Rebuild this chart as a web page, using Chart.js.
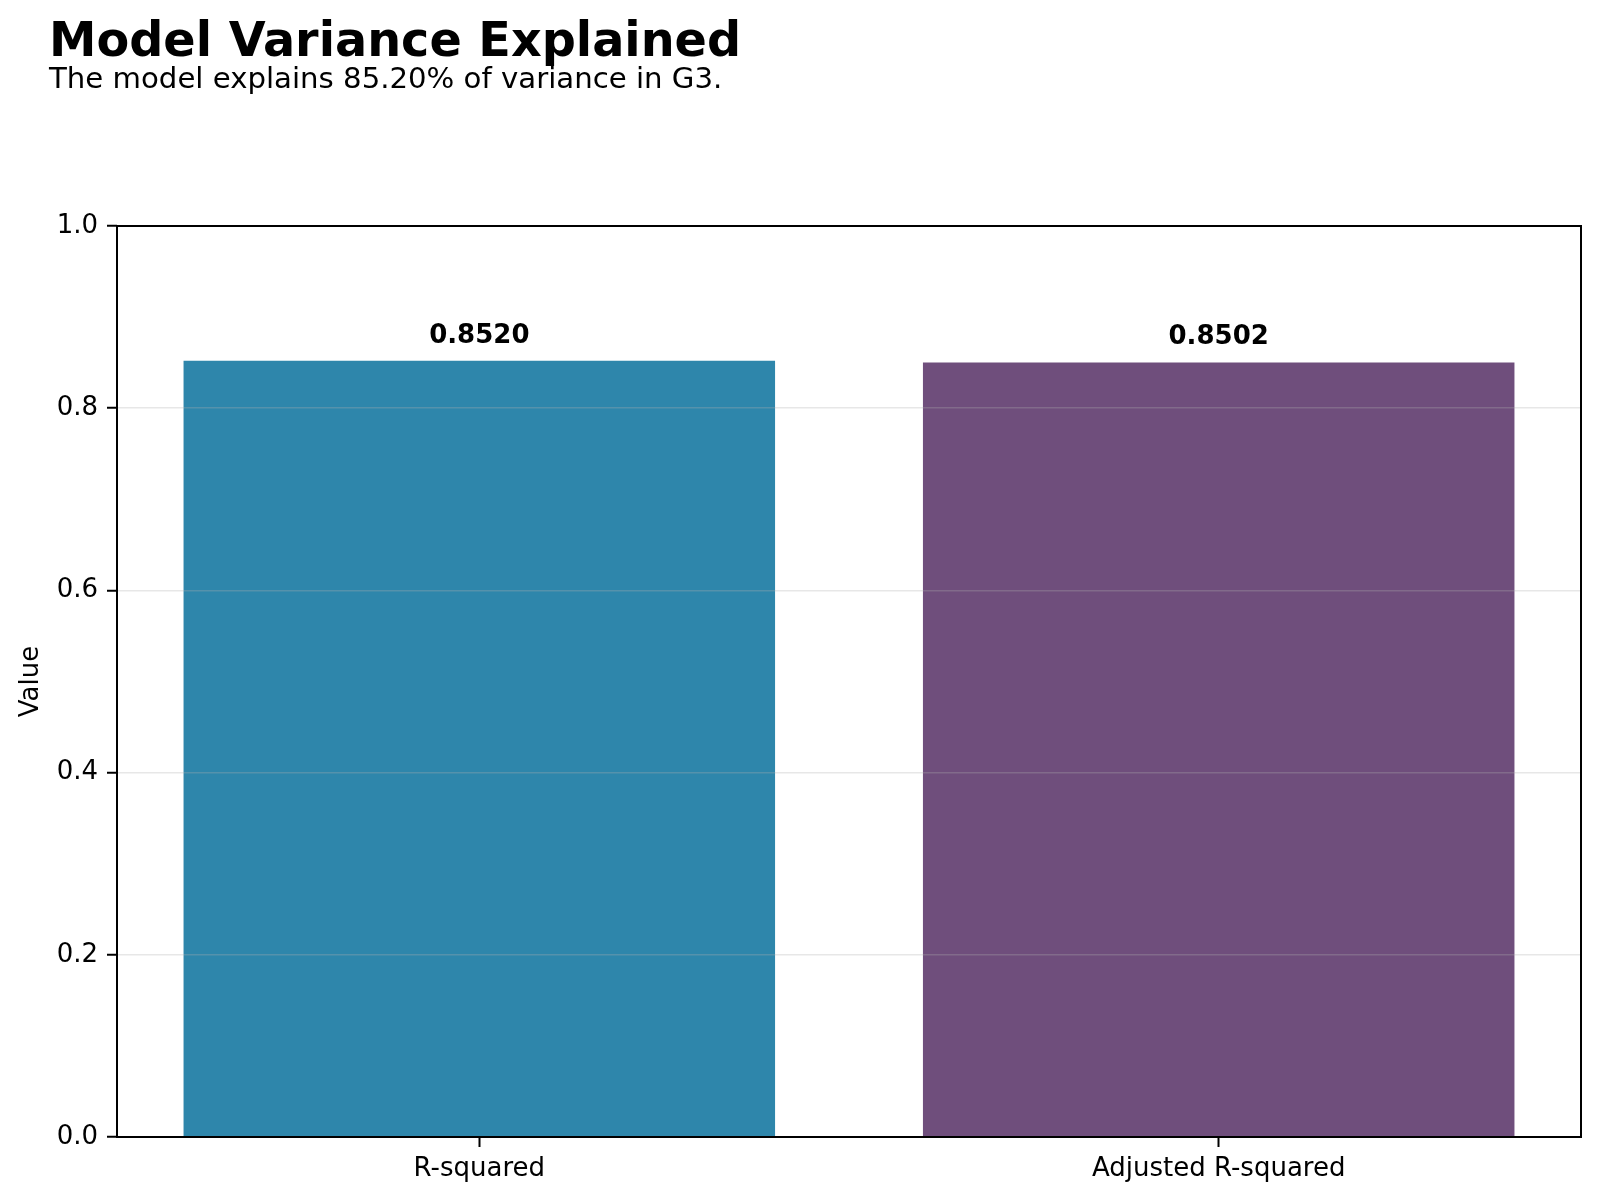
<!DOCTYPE html>
<html>
<head>
<meta charset="utf-8">
<title>Model Variance Explained</title>
<script src="https://cdn.jsdelivr.net/npm/chart.js@4.4.1/dist/chart.umd.min.js"></script>
<style>
  body { margin: 0; background: #fff; }
  canvas { display: block; }
</style>
</head>
<body>
<canvas id="myChart" width="1600" height="1201"></canvas>
<script>
// ----------------------------
// data
// ----------------------------
const metricLabels = ['R-squared', 'Adjusted R-squared'];
const metricValues = [0.8520, 0.8502];
const barColors = ['#2E86AB', '#6F4E7C'];
const yTicks = [0.0, 0.2, 0.4, 0.6, 0.8, 1.0];

const titleText = 'Model Variance Explained';
const subtitleText = 'The model explains 85.20% of variance in G3.';

Chart.defaults.font.family = "'DejaVu Sans', sans-serif";
Chart.defaults.color = '#000';

const points = metricValues.map((v, i) => ({ x: i, y: v }));

// title + subtitle sit at the figure's left edge, not the axes
const headerPlugin = {
    id: 'header',
    afterDraw(chart) {
        const c = chart.ctx;
        c.save();
        c.fillStyle = '#000';
        c.textAlign = 'left';
        c.textBaseline = 'alphabetic';
        c.font = "bold 47.7px 'DejaVu Sans'";
        c.fillText(titleText, 49, 56);
        c.font = "29.2px 'DejaVu Sans'";
        c.fillText(subtitleText, 49, 88);
        c.restore();
    }
};

// value on top of each bar
const valueLabelPlugin = {
    id: 'valueLabels',
    afterDraw(chart) {
        const c = chart.ctx;
        const meta = chart.getDatasetMeta(0);
        const yScale = chart.scales.y;
        c.save();
        c.fillStyle = '#000';
        c.textAlign = 'center';
        c.textBaseline = 'alphabetic';
        c.font = "bold 26px 'DejaVu Sans'";
        meta.data.forEach((bar, i) => {
            const y = yScale.getPixelForValue(metricValues[i]) - 18;
            c.fillText(metricValues[i].toFixed(4), bar.x, y);
        });
        c.restore();
    }
};

// full box around the plot area
const framePlugin = {
    id: 'frame',
    afterDraw(chart) {
        const { ctx: c, chartArea: a } = chart;
        c.save();
        c.strokeStyle = '#000';
        c.lineWidth = 2;
        c.strokeRect(a.left, a.top, a.right - a.left, a.bottom - a.top);
        c.restore();
    }
};

const ctx = document.getElementById('myChart').getContext('2d');

const chart = new Chart(ctx, {
    type: 'bar',
    data: {
        datasets: [
            {
                data: points,
                backgroundColor: barColors,
                borderWidth: 0,
                barPercentage: 0.8,
                categoryPercentage: 1.0
            }
        ]
    },
    options: {
        responsive: false,
        animation: false,
        layout: {
            padding: { top: 226, right: 19, bottom: 0, left: 0 }
        },
        plugins: {
            legend: { display: false },
            tooltip: { enabled: false },
            title: { display: false }
        },
        scales: {
            x: {
                type: 'linear',
                min: -0.49,
                max: 1.49,
                offset: false,
                afterBuildTicks: (s) => {
                    s.ticks = metricLabels.map((_, i) => ({ value: i }));
                },
                afterFit: (s) => { s.height = 64; },
                ticks: {
                    callback: (v) => metricLabels[v],
                    font: { size: 26 },
                    padding: 7,
                    autoSkip: false,
                    maxRotation: 0,
                    color: '#000'
                },
                grid: {
                    offset: false,
                    drawOnChartArea: false,
                    tickColor: '#000',
                    tickLength: 10,
                    tickWidth: 2
                },
                border: { display: false }
            },
            y: {
                min: 0,
                max: 1,
                afterBuildTicks: (s) => {
                    s.ticks = yTicks.map(v => ({ value: v }));
                },
                afterFit: (s) => { s.width = 117; },
                ticks: {
                    callback: (v) => v.toFixed(1),
                    font: { size: 26 },
                    padding: 9,
                    color: '#000'
                },
                grid: {
                    z: 1,
                    color: 'rgba(176, 176, 176, 0.3)',
                    lineWidth: 1.5,
                    tickColor: '#000',
                    tickLength: 10,
                    tickWidth: 2
                },
                border: { display: false },
                title: {
                    display: true,
                    text: 'Value',
                    font: { size: 26 },
                    color: '#000',
                    padding: { top: 16, bottom: 0 }
                }
            }
        }
    },
    plugins: [headerPlugin, valueLabelPlugin, framePlugin]
});
</script>
</body>
</html>
